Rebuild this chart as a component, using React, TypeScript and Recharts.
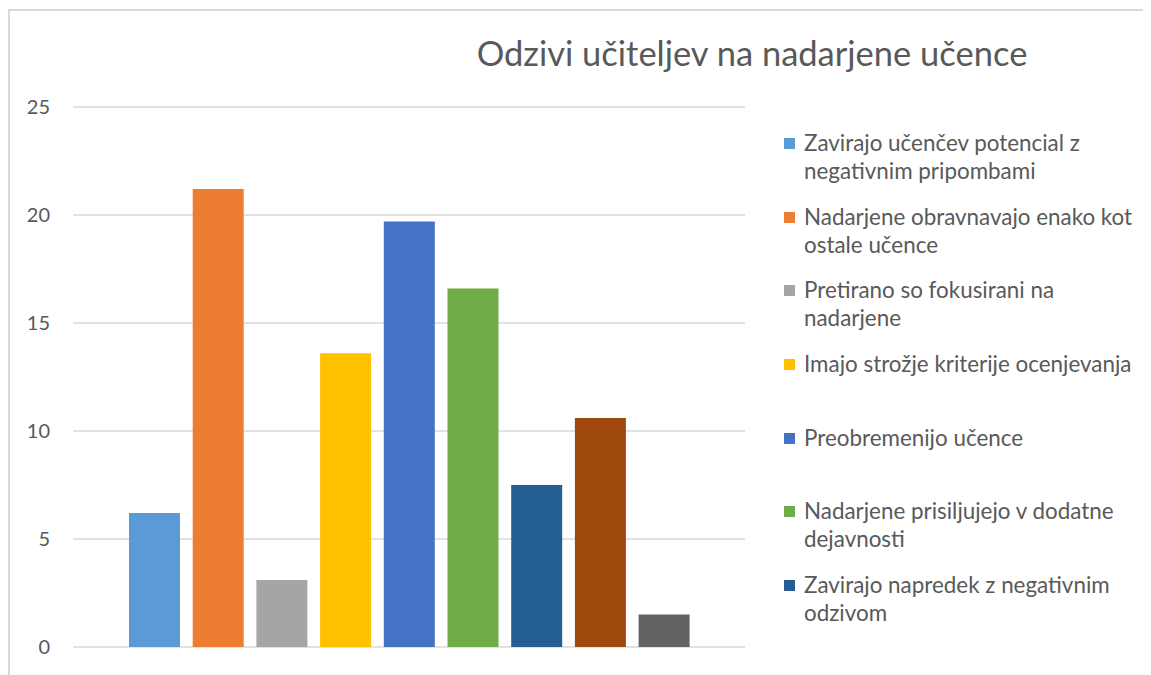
import { BarChart, Bar, YAxis, XAxis, CartesianGrid, Legend } from 'recharts';

const title = 'Odzivi učiteljev na nadarjene učence';
const categories = [''];
const seriesNames = [
  'Zavirajo učenčev potencial z negativnim pripombami',
  'Nadarjene obravnavajo enako kot ostale učence',
  'Pretirano so fokusirani na nadarjene',
  'Imajo strožje kriterije ocenjevanja',
  'Preobremenijo učence',
  'Nadarjene prisiljujejo v dodatne dejavnosti',
  'Zavirajo napredek z negativnim odzivom',
  'Serija 8',
  'Serija 9',
];
const seriesValues = [6.2, 21.2, 3.1, 13.6, 19.7, 16.6, 7.5, 10.6, 1.5];
const colors = ['#5B9BD5', '#ED7D31', '#A5A5A5', '#FFC000', '#4472C4', '#70AD47', '#255E91', '#9E480E', '#636363'];
const yTicks = [0, 5, 10, 15, 20, 25];
const visibleLegendItems = 7;

const data = categories.map((cat) => {
  const row: Record<string, string | number> = { cat };
  seriesValues.forEach((v, i) => {
    row['s' + i] = v;
  });
  return row;
});

const font = 'Lato, "Open Sans", sans-serif';
const textColor = '#595959';

// Excel drops the legend entries that don't fit, so only the first ones are shown
const LegendContent = () => (
  <div style={{ fontFamily: font }}>
    {seriesNames.slice(0, visibleLegendItems).map((name, i) => (
      <div key={name} style={{ height: 73.7, display: 'flex', alignItems: 'flex-start' }}>
        <div style={{ width: 11, height: 11, background: colors[i], marginTop: 9, marginRight: 9, flexShrink: 0 }} />
        <div style={{ fontSize: 22.4, lineHeight: '28px', color: textColor, width: 335 }}>{name}</div>
      </div>
    ))}
  </div>
);

export default function App() {
  return (
    <div style={{ position: 'relative', width: 1143, height: 667, overflow: 'hidden', background: '#fff' }}>
      <div
        style={{
          position: 'absolute',
          left: 0,
          top: 1,
          width: 1200,
          height: 700,
          borderLeft: '2px solid #d9d9d9',
          borderTop: '2px solid #d9d9d9',
          boxSizing: 'border-box',
        }}
      />
      <div
        style={{
          position: 'absolute',
          left: 744 - 400,
          top: 23,
          width: 800,
          textAlign: 'center',
          fontFamily: font,
          fontSize: 34.5,
          color: textColor,
          lineHeight: '44px',
        }}
      >
        {title}
      </div>
      <BarChart
        width={1143}
        height={667}
        data={data}
        margin={{ top: 99, right: 36, bottom: 28, left: 0 }}
        barCategoryGap={56}
        barGap={12.7}
        style={{ position: 'absolute', left: 0, top: 0 }}
      >
        <CartesianGrid vertical={false} stroke="#d9d9d9" strokeWidth={1.5} />
        <XAxis dataKey="cat" hide />
        <YAxis
          domain={[0, 25]}
          ticks={yTicks}
          width={65}
          axisLine={false}
          tickLine={false}
          tickSize={0}
          tickMargin={23}
          tick={{ fill: textColor, fontSize: 20, fontFamily: font }}
        />
        <Legend
          layout="vertical"
          align="right"
          verticalAlign="top"
          content={<LegendContent />}
          wrapperStyle={{ left: 776, top: 121, width: 370 }}
        />
        {seriesNames.map((name, i) => (
          <Bar key={name} dataKey={'s' + i} name={name} fill={colors[i]} isAnimationActive={false} />
        ))}
      </BarChart>
    </div>
  );
}
